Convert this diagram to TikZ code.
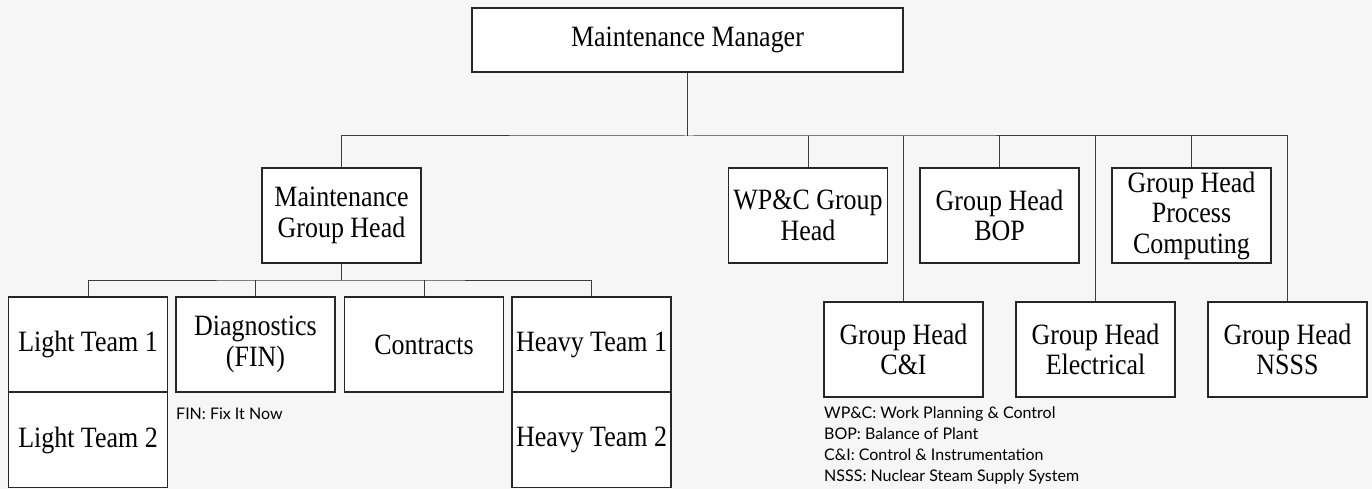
\documentclass[tikz,border=0pt]{standalone}
\usepackage{fontspec}
\setmainfont{Liberation Serif}[FakeStretch=0.88]
\newfontfamily\orgnotefont{Lato}
\usetikzlibrary{positioning,calc}
\definecolor{OrgInk}{HTML}{262626}
\definecolor{OrgLine}{HTML}{3C3C3C}
\definecolor{OrgPage}{HTML}{F6F6F6}
\tikzset{
  org box/.style={draw=OrgInk, fill=white, line width=1.2pt, minimum width=159pt, minimum height=95pt,
    inner sep=1pt, align=center, font=\fontsize{29.5}{30.5}\selectfont, text=black},
  org line/.style={draw=OrgLine, line width=1pt},
  org note/.style={font=\orgnotefont\fontsize{16}{21}\selectfont, text=black, align=left, inner sep=0pt},
}
\begin{document}
\begin{tikzpicture}[x=1pt,y=-1pt]
  \fill[OrgPage] (0,0) rectangle (1372,489);
  \useasboundingbox (0,0) rectangle (1372,489);

  % top of the tree
  \node[org box, minimum width=431pt, minimum height=64pt] (mm) at (687.5,40) {Maintenance Manager};
  \coordinate (bus) at (687.5,136);

  % group heads, upper row
  \node[org box] (mgh) at (341.5,215.5) {Maintenance\\Group Head};
  \node[org box] (wpc) at (808,215.5) {WP\&C Group\\Head};
  \node[org box] (bop) at (999.5,215.5) {Group Head\\BOP};
  \node[org box] (pc) at (1191.5,215.5) {Group Head\\Process\\Computing};

  % group heads, lower row
  \node[org box] (ci) at (903.5,349.5) {Group Head\\C\&I};
  \node[org box] (el) at (1095.5,349.5) {Group Head\\Electrical};
  \node[org box] (nsss) at (1287.5,349.5) {Group Head\\NSSS};

  \draw[org line] (mm) -- (bus);
  \draw[org line] (mgh.north) |- (bus) -| (nsss.north);
  \foreach \n in {wpc,bop,pc,ci,el}
    \draw[org line] (\n.north) -- (\n.north |- bus);

  % maintenance teams
  \node[org box] (lt1) at (88,344.5) {Light Team 1};
  \node[org box] (lt2) at (88,440) {Light Team 2};
  \node[org box] (diag) at (255.5,344.5) {Diagnostics\\(FIN)};
  \node[org box] (con) at (424,344.5) {Contracts};
  \node[org box] (ht1) at (591.5,344.5) {Heavy Team 1};
  \node[org box] (ht2) at (591.5,440) {Heavy Team 2};
  \coordinate (sub) at (341.5,280);

  \draw[org line] (mgh) -- (sub);
  \draw[org line] (lt1.north) |- (sub) -| (ht1.north);
  \foreach \n in {diag,con}
    \draw[org line] (\n.north) -- (\n.north |- sub);

  % abbreviations
  \node[org note, anchor=west] (finnote) at (176,414) {FIN: Fix It Now};
  \node[org note, anchor=north west] (abbr) at (824,407)
    {WP\&C: Work Planning \& Control\\BOP: Balance of Plant\\C\&I: Control \& Instrumentation\\NSSS: Nuclear Steam Supply System};
\end{tikzpicture}
\end{document}
